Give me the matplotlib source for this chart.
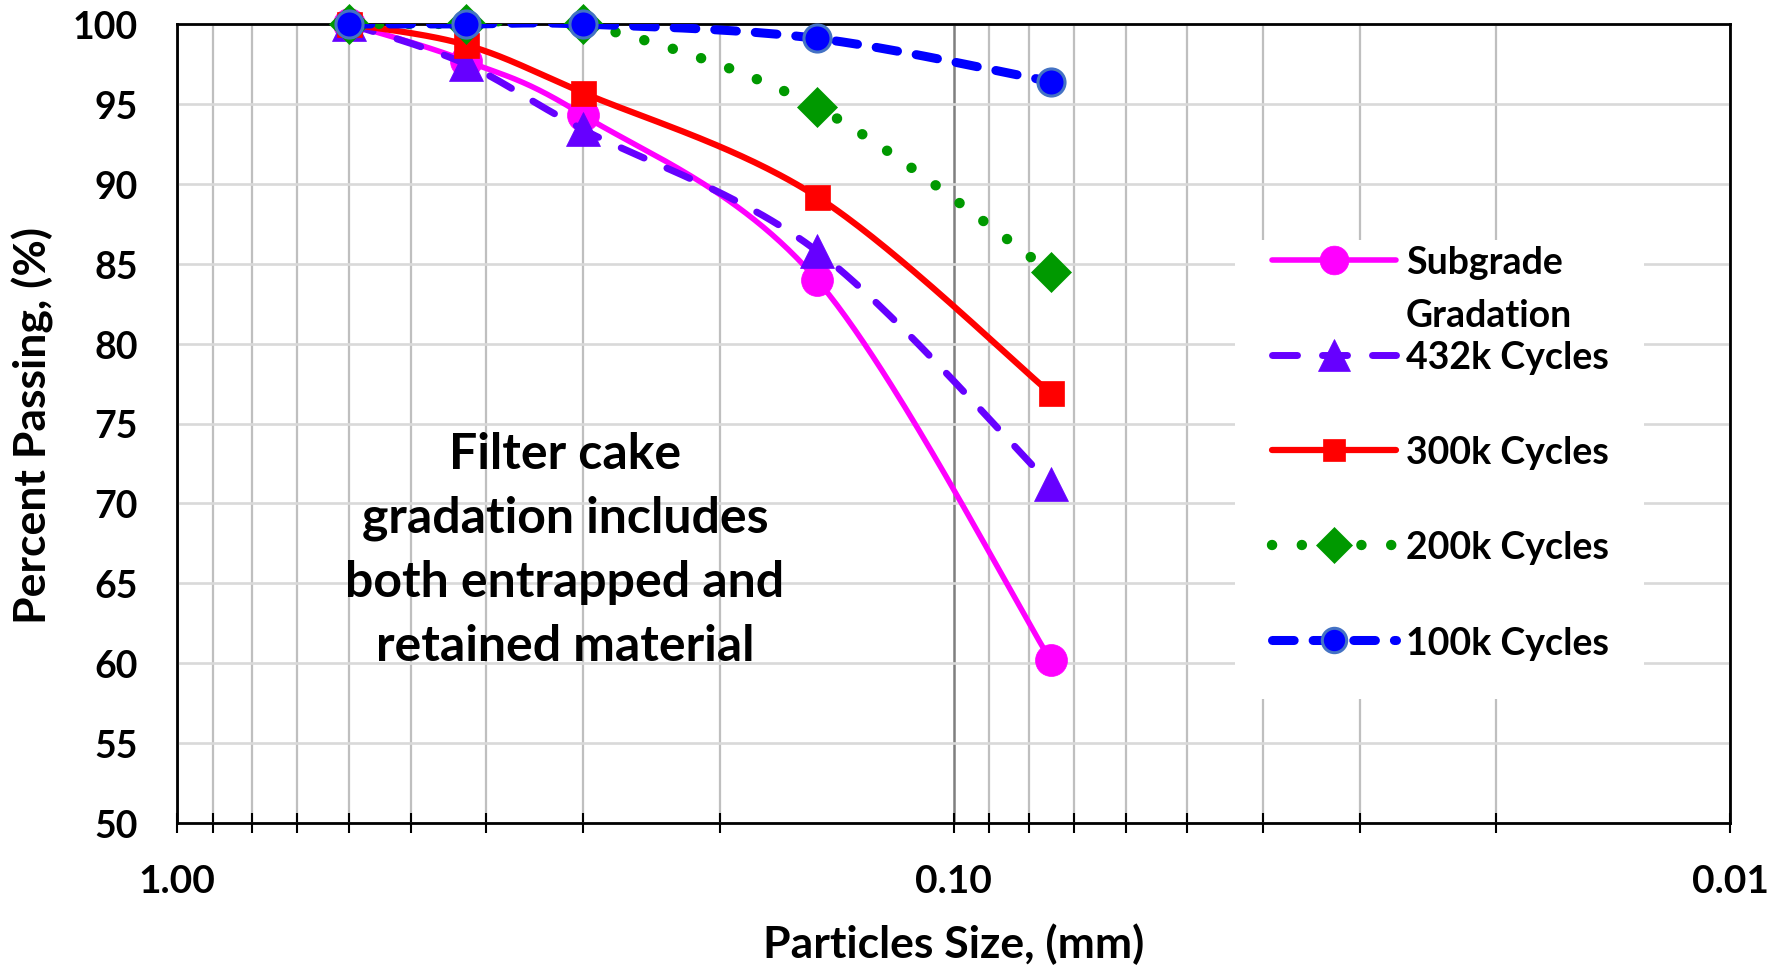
import numpy as np
import matplotlib
matplotlib.use("Agg")
import matplotlib.pyplot as plt
from matplotlib.lines import Line2D
from matplotlib.patches import Rectangle
from matplotlib.ticker import FixedLocator, NullFormatter, FuncFormatter
from matplotlib.font_manager import FontProperties

# ---------------- data ----------------
sizes_mm = [0.6, 0.425, 0.3, 0.15, 0.075]
series_labels = ["Subgrade", "432k Cycles", "300k Cycles", "200k Cycles", "100k Cycles"]
legend_second_line = "Gradation"
subgrade = [100, 97.7, 94.3, 84.0, 60.2]
cycles_432k = [100, 97.5, 93.4, 85.8, 71.2]
cycles_300k = [100, 98.7, 95.7, 89.2, 76.9]
cycles_200k = [100, 100, 100, 94.8, 84.5]
cycles_100k = [100, 100, 100, 99.1, 96.4]
y_ticks = [50, 55, 60, 65, 70, 75, 80, 85, 90, 95, 100]
x_major_ticks = [1.0, 0.1, 0.01]
x_minor_ticks = [0.9, 0.8, 0.7, 0.6, 0.5, 0.4, 0.3, 0.2,
                 0.09, 0.08, 0.07, 0.06, 0.05, 0.04, 0.03, 0.02]
annotation = "Filter cake\ngradation includes\nboth entrapped and\nretained material"
x_label = "Particles Size, (mm)"
y_label = "Percent Passing, (%)"

# ---------------- style ----------------
plt.rcParams['font.family'] = ['Lato', 'DejaVu Sans']
plt.rcParams['font.weight'] = 'bold'

W, H, DPI = 1770, 970, 100
AX_L, AX_R, AX_T, AX_B = 177, 1730, 25, 824

fig = plt.figure(figsize=(W / DPI, H / DPI), dpi=DPI)
ax = fig.add_axes([AX_L / W, 1 - AX_B / H, (AX_R - AX_L) / W, (AX_B - AX_T) / H])


def px_to_axes(x, y_top):
    return (x - AX_L) / (AX_R - AX_L), (AX_B - y_top) / (AX_B - AX_T)


styles = [
    dict(color='#FF00FF', lw=4.0, ls='-', marker='o', ms=23, mfc='#FF00FF', mec='#FF00FF', mew=0.5),
    dict(color='#6600FF', lw=5.0, ls=(0, (3.6, 3.6)), marker='^', ms=25, mfc='#6600FF', mec='#6600FF', mew=0.5),
    dict(color='#FF0000', lw=4.5, ls='-', marker='s', ms=18, mfc='#FF0000', mec='#FF0000', mew=0.5),
    dict(color='#009900', lw=7.5, ls=(0, (0.01, 2.85)), marker='D', ms=20, mfc='#009900', mec='#009900', mew=0.5),
    dict(color='#0000FF', lw=6.5, ls=(0, (2.4, 2.1)), marker='o', ms=19.5, mfc='#0000FF', mec='#4472C4', mew=2.2),
]
series = [subgrade, cycles_432k, cycles_300k, cycles_200k, cycles_100k]


def excel_smooth(x, y, n=60):
    """Excel-style smoothed line (Catmull-Rom Bezier) in log10(x) / y space."""
    P = np.column_stack([np.log10(np.asarray(x, float)), np.asarray(y, float)])
    N = len(P)
    out = []
    t = np.linspace(0, 1, n)[:, None]
    for i in range(N - 1):
        p0 = P[i - 1] if i > 0 else P[i]
        p1, p2 = P[i], P[i + 1]
        p3 = P[i + 2] if i + 2 < N else P[i + 1]
        c1 = p1 + (p2 - p0) / 6.0
        c2 = p2 - (p3 - p1) / 6.0
        seg = (1 - t) ** 3 * p1 + 3 * (1 - t) ** 2 * t * c1 + 3 * (1 - t) * t ** 2 * c2 + t ** 3 * p2
        out.append(seg if i == 0 else seg[1:])
    out = np.vstack(out)
    return 10 ** out[:, 0], out[:, 1]


for i, (vals, st) in enumerate(zip(series, styles)):
    z = 3 + 2 * i
    sx, sy = excel_smooth(sizes_mm, vals)
    ax.plot(sx, sy, color=st['color'], lw=st['lw'], ls=st['ls'],
            solid_capstyle='round', dash_capstyle='round', zorder=z)
    ax.plot(sizes_mm, vals, ls='none', marker=st['marker'], ms=st['ms'],
            mfc=st['mfc'], mec=st['mec'], mew=st['mew'], zorder=z + 1, clip_on=False)

# ---------------- axes ----------------
ax.set_xscale('log')
ax.set_xlim(1.0, 0.01)
ax.set_ylim(50, 100)
ax.set_yticks(y_ticks)
ax.xaxis.set_major_locator(FixedLocator(x_major_ticks))
ax.xaxis.set_major_formatter(FuncFormatter(lambda v, p: f"{v:.2f}"))
ax.xaxis.set_minor_locator(FixedLocator(x_minor_ticks))
ax.xaxis.set_minor_formatter(NullFormatter())

ax.set_axisbelow(True)
ax.grid(True, which='major', axis='y', color='#D9D9D9', lw=1.9)
ax.grid(True, which='minor', axis='x', color='#BFBFBF', lw=1.6)
ax.grid(True, which='major', axis='x', color='#7F7F7F', lw=1.8)

for sp in ax.spines.values():
    sp.set_linewidth(2.0)
    sp.set_color('black')

ax.tick_params(axis='x', which='both', direction='inout', length=14, width=1.5,
               color='black', pad=22, labelsize=28)
ax.tick_params(axis='y', which='both', length=0, pad=28, labelsize=27)
for lab in ax.get_xticklabels() + ax.get_yticklabels():
    lab.set_fontweight('bold')

ax.set_xlabel(x_label, fontsize=32, fontweight='bold')
ax.xaxis.set_label_coords(0.5, (AX_B - 923) / (AX_B - AX_T))
ax.set_ylabel(y_label, fontsize=32, fontweight='bold')
ax.yaxis.set_label_coords((54 - AX_L) / (AX_R - AX_L), (AX_B - 426) / (AX_B - AX_T))

# white legend background
lx0, ly0 = px_to_axes(1235, 241)
lx1, ly1 = px_to_axes(1644, 700)
ax.add_patch(Rectangle((lx0, ly1), lx1 - lx0, ly0 - ly1, transform=ax.transAxes,
                       facecolor='white', edgecolor='none', zorder=1))

# ---------------- legend ----------------
LEG_SIZE = 27
leg_font = FontProperties(family=['Lato', 'DejaVu Sans'], weight='bold', size=LEG_SIZE)
handles = [Line2D([], [], color=st['color'], lw=st['lw'], ls=st['ls'],
                  dash_capstyle='round', solid_capstyle='round',
                  marker=st['marker'], ms=st['ms'], mfc=st['mfc'],
                  mec=st['mec'], mew=st['mew']) for st in styles]
HANDLE_LEN_PX = 124


def make_legend(anchor, ls):
    lg = ax.legend(handles, series_labels, loc='upper left',
                   bbox_to_anchor=(anchor[0] / W, anchor[1] / H),
                   bbox_transform=fig.transFigure, frameon=False, prop=leg_font,
                   handlelength=HANDLE_LEN_PX * 72 / DPI / LEG_SIZE,
                   handletextpad=10 * 72 / DPI / LEG_SIZE, labelspacing=ls,
                   borderpad=0, borderaxespad=0, numpoints=1, markerscale=0.9)
    lg.set_zorder(30)
    return lg


def hcenter(h):
    xy = h.get_transform().transform(h.get_xydata())
    return xy[:, 0].mean(), xy[:, 1].mean()


ROW_PX = 95.1
ls = 1.6
anchor = [1271.0, 730.0]
leg = make_legend(anchor, ls)
fig.canvas.draw()
c0 = hcenter(leg.legend_handles[0])
c1 = hcenter(leg.legend_handles[1])
ls = ls + (ROW_PX - (c0[1] - c1[1])) / (LEG_SIZE * DPI / 72)
leg.remove()
leg = make_legend(anchor, ls)
fig.canvas.draw()
c0 = hcenter(leg.legend_handles[0])
anchor = [anchor[0] + 1334 - c0[0], anchor[1] + (H - 261) - c0[1]]
leg.remove()
leg = make_legend(anchor, ls)
fig.canvas.draw()

bx, by = leg.texts[0].get_transform().transform((0, 0))
fig.text(bx / W, (by - 53) / H, legend_second_line, fontproperties=leg_font,
         ha='left', va='baseline', zorder=31)

# ---------------- annotation ----------------
r = fig.canvas.get_renderer()
ann_font = FontProperties(family=['Lato', 'DejaVu Sans'], weight='bold', size=36)
_, lp_h, lp_d = r.get_text_width_height_descent("lp", ann_font, ismath=False)
ann_ls = (64 - lp_d) / (lp_h - lp_d)
ax_x, ax_y = px_to_axes(565, 469 - (lp_h - lp_d))
ax.text(ax_x, ax_y, annotation, transform=ax.transAxes, ha='center', va='top',
        multialignment='center', fontproperties=ann_font, linespacing=ann_ls, zorder=25)

fig.savefig('out.png', dpi=DPI)
